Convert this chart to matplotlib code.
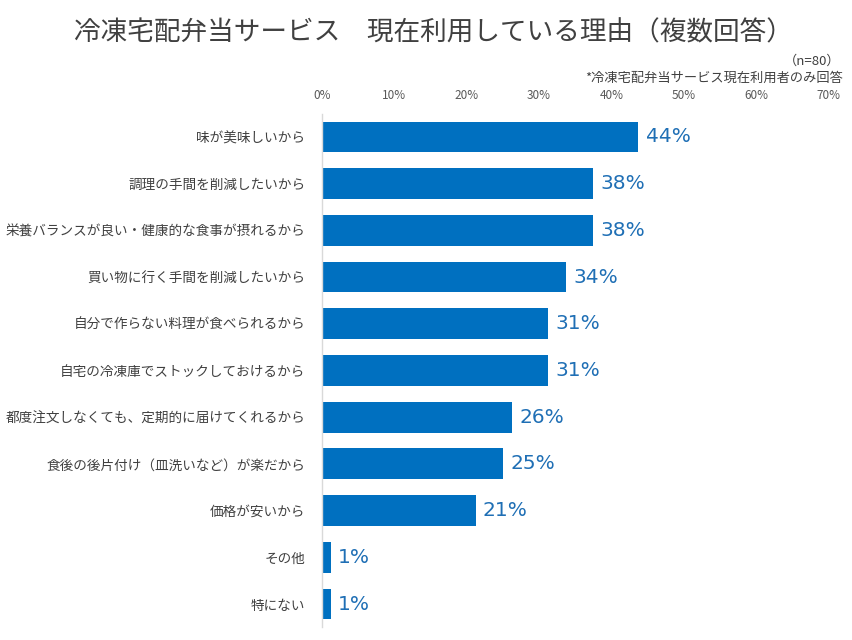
import matplotlib
matplotlib.use("Agg")
import matplotlib.pyplot as plt
from matplotlib.ticker import FuncFormatter

plt.rcParams['font.family'] = ['Noto Sans CJK JP', 'DejaVu Sans']

categories = [
    "味が美味しいから",
    "調理の手間を削減したいから",
    "栄養バランスが良い・健康的な食事が摂れるから",
    "買い物に行く手間を削減したいから",
    "自分で作らない料理が食べられるから",
    "自宅の冷凍庫でストックしておけるから",
    "都度注文しなくても、定期的に届けてくれるから",
    "食後の後片付け（皿洗いなど）が楽だから",
    "価格が安いから",
    "その他",
    "特にない",
]
values = [43.75, 37.5, 37.5, 33.75, 31.25, 31.25, 26.25, 25.0, 21.25, 1.25, 1.25]
labels = ["44%", "38%", "38%", "34%", "31%", "31%", "26%", "25%", "21%", "1%", "1%"]
xticks = [0, 10, 20, 30, 40, 50, 60, 70]

title = "冷凍宅配弁当サービス　現在利用している理由（複数回答）"
note1 = "（n=80）"
note2 = "*冷凍宅配弁当サービス現在利用者のみ回答"

bar_color = "#0070C0"
label_color = "#1F6FB5"
text_color = "#404040"

fig = plt.figure(figsize=(8.53, 6.4), dpi=100)
ax = fig.add_axes([0.3775, 0.0197, 0.5935, 0.8028])

y = list(range(len(categories)))
ax.barh(y, values, height=0.66, color=bar_color)
for yi, v, lab in zip(y, values, labels):
    ax.text(v + 1.0, yi, lab, va='center', ha='left', fontsize=14.5,
            color=label_color, family=['DejaVu Sans'])

ax.set_ylim(len(categories) - 0.5, -0.5)
ax.set_xlim(0, 70)
ax.set_yticks(y)
ax.set_yticklabels(categories, fontsize=9.8, color=text_color)
ax.tick_params(axis='y', length=0, pad=12)
ax.xaxis.tick_top()
ax.set_xticks(xticks)
ax.xaxis.set_major_formatter(FuncFormatter(lambda x, p: f"{int(x)}%"))
ax.tick_params(axis='x', length=0, labelsize=8.5, labelcolor="#595959", pad=8)
for s in ['top', 'right', 'bottom']:
    ax.spines[s].set_visible(False)
ax.spines['left'].set_color("#D9D9D9")
ax.spines['left'].set_linewidth(1.0)

fig.text(0.508, 0.948, title, ha='center', va='center', fontsize=19.2, color=text_color)
fig.text(0.985, 0.905, note1, ha='right', va='center', fontsize=9.5, color=text_color)
fig.text(0.988, 0.877, note2, ha='right', va='center', fontsize=9.5, color=text_color)

fig.savefig("out.png", dpi=100, facecolor='white')
